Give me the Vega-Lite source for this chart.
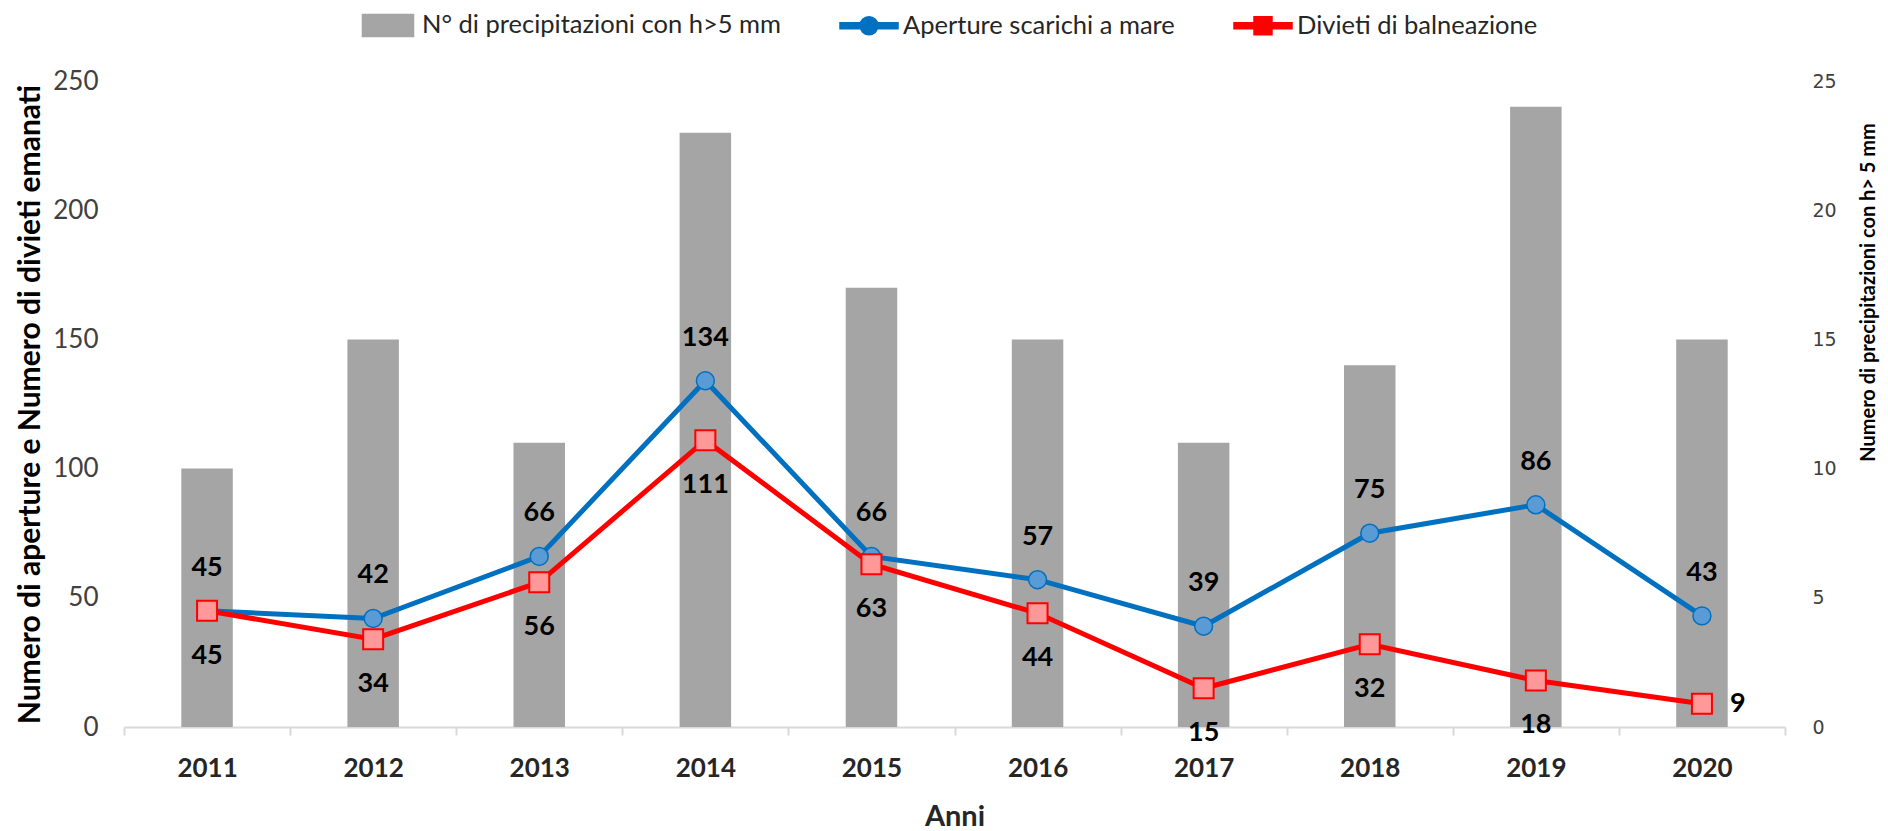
{
  "$schema": "https://vega.github.io/schema/vega-lite/v6.json",
  "width": 1661,
  "height": 646,
  "autosize": {"type": "none"},
  "padding": {"left": 124, "top": 81, "right": 103, "bottom": 104},
  "background": "white",
  "config": {
    "view": {"stroke": null},
    "font": "Lato, sans-serif",
    "axisLeft": {
      "grid": true,
      "gridWidth": 2,
      "domain": false,
      "ticks": false,
      "labelPadding": 26,
      "labelFontSize": 26,
      "labelColor": "#404040",
      "labelBaseline": "middle",
      "labelOverlap": false,
      "titleFontSize": 30,
      "titleFontWeight": "bold",
      "titleColor": "#000000",
      "titleX": -94,
      "titleY": 323,
      "titleAngle": 270,
      "titleAlign": "center",
      "titleBaseline": "middle"
    }
  },
  "data": {
    "values": [
      {"anno": "2011", "precip": 10, "aperture": 45, "divieti": 45},
      {"anno": "2012", "precip": 15, "aperture": 42, "divieti": 34},
      {"anno": "2013", "precip": 11, "aperture": 66, "divieti": 56},
      {"anno": "2014", "precip": 23, "aperture": 134, "divieti": 111},
      {"anno": "2015", "precip": 17, "aperture": 66, "divieti": 63},
      {"anno": "2016", "precip": 15, "aperture": 57, "divieti": 44},
      {"anno": "2017", "precip": 11, "aperture": 39, "divieti": 15},
      {"anno": "2018", "precip": 14, "aperture": 75, "divieti": 32},
      {"anno": "2019", "precip": 24, "aperture": 86, "divieti": 18},
      {"anno": "2020", "precip": 15, "aperture": 43, "divieti": 9}
    ]
  },
  "encoding": {
    "x": {
      "field": "anno",
      "type": "ordinal",
      "scale": {"paddingInner": 0, "paddingOuter": 0},
      "axis": {
        "title": "Anni",
        "labelAngle": 0,
        "labelFontSize": 26,
        "labelFontWeight": "bold",
        "labelColor": "#262626",
        "labelPadding": 20,
        "ticks": true,
        "tickBand": "extent",
        "tickSize": 8,
        "tickWidth": 2,
        "tickColor": "#d9d9d9",
        "domainColor": "#d9d9d9",
        "domainWidth": 2,
        "grid": false,
        "titleFontSize": 29,
        "titleFontWeight": "bold",
        "titleColor": "#262626",
        "titleY": 98,
        "titleBaseline": "alphabetic"
      }
    }
  },
  "layer": [
    {
      "mark": {"type": "bar", "width": {"band": 0.31}, "color": "#a5a5a5"},
      "encoding": {
        "y": {
          "field": "precip",
          "type": "quantitative",
          "scale": {"domain": [0, 25], "nice": false},
          "axis": {
            "orient": "right",
            "title": "Numero di precipitazioni con h> 5 mm",
            "values": [0, 5, 10, 15, 20, 25],
            "grid": false,
            "domain": false,
            "ticks": false,
            "labelPadding": 27,
            "labelFont": "DejaVu Sans",
            "labelFontSize": 19,
            "labelColor": "#404040",
            "titleFontSize": 20,
            "titleFontWeight": "bold",
            "titleColor": "#000000",
            "titleX": 83,
            "titleY": 211,
            "titleAngle": 270,
            "titleAlign": "center",
            "titleBaseline": "middle"
          }
        },
        "color": {
          "datum": "N° di precipitazioni con h>5 mm",
          "type": "nominal",
          "scale": {
            "domain": ["N° di precipitazioni con h>5 mm", "Aperture scarichi a mare", "Divieti di balneazione"],
            "range": ["#a5a5a5", "#0070c0", "#ff0000"]
          },
          "legend": {
            "orient": "none",
            "legendX": 234,
            "legendY": -86,
            "direction": "horizontal",
            "title": null,
            "padding": 0,
            "symbolSize": 3364,
            "labelFontSize": 25.5,
            "labelLimit": 0,
            "labelColor": "#262626",
            "labelOffset": 4,
            "columnPadding": 56,
            "encode": {
              "symbols": {
                "update": {
                  "shape": {"signal": "datum.value === 'Aperture scarichi a mare' ? 'M-1,-0.1H1V0.1H-1Z M0.31,0A0.31,0.31 0 1,1 -0.31,0A0.31,0.31 0 1,1 0.31,0Z' : datum.value === 'Divieti di balneazione' ? 'M-1,-0.1H1V0.1H-1Z M-0.31,-0.31H0.31V0.31H-0.31Z' : 'M-0.88,-0.38H0.88V0.38H-0.88Z'"},
                  "fill": {"scale": "color", "field": "value"},
                  "stroke": {"value": "transparent"},
                  "opacity": {"value": 1},
                  "fillOpacity": {"value": 1}
                }
              }
            }
          }
        }
      }
    },
    {
      "layer": [
        {
          "mark": {"type": "line", "strokeWidth": 5},
          "encoding": {
            "y": {
              "field": "aperture",
              "type": "quantitative",
              "scale": {"domain": [0, 250], "nice": false},
              "title": "Numero di aperture e Numero di divieti emanati",
              "axis": {"orient": "left", "title": "Numero di aperture e Numero di divieti emanati", "values": [0, 10, 20, 30, 40, 50, 60, 70, 80, 90, 100, 110, 120, 130, 140, 150, 160, 170, 180, 190, 200, 210, 220, 230, 240, 250], "labelExpr": "datum.value % 50 === 0 ? datum.label : ''", "gridColor": {"condition": {"test": "datum.value % 50 === 0", "value": "#d9d9d9"}, "value": "#ededed"}}
            },
            "color": {"datum": "Aperture scarichi a mare", "type": "nominal"}
          }
        },
        {
          "mark": {"type": "line", "strokeWidth": 5},
          "encoding": {
            "y": {
              "field": "divieti",
              "type": "quantitative",
              "title": "Numero di aperture e Numero di divieti emanati",
              "axis": {"orient": "left", "title": "Numero di aperture e Numero di divieti emanati", "values": [0, 10, 20, 30, 40, 50, 60, 70, 80, 90, 100, 110, 120, 130, 140, 150, 160, 170, 180, 190, 200, 210, 220, 230, 240, 250], "labelExpr": "datum.value % 50 === 0 ? datum.label : ''", "gridColor": {"condition": {"test": "datum.value % 50 === 0", "value": "#d9d9d9"}, "value": "#ededed"}}
            },
            "color": {"datum": "Divieti di balneazione", "type": "nominal"}
          }
        },
        {
          "mark": {"type": "point", "shape": "circle", "filled": true, "size": 320, "fill": "#5b9bd5", "stroke": "#0070c0", "strokeWidth": 1.5, "opacity": 1},
          "encoding": {
            "y": {
              "field": "aperture",
              "type": "quantitative",
              "title": "Numero di aperture e Numero di divieti emanati",
              "axis": {"orient": "left", "title": "Numero di aperture e Numero di divieti emanati", "values": [0, 10, 20, 30, 40, 50, 60, 70, 80, 90, 100, 110, 120, 130, 140, 150, 160, 170, 180, 190, 200, 210, 220, 230, 240, 250], "labelExpr": "datum.value % 50 === 0 ? datum.label : ''", "gridColor": {"condition": {"test": "datum.value % 50 === 0", "value": "#d9d9d9"}, "value": "#ededed"}}
            }
          }
        },
        {
          "mark": {"type": "point", "shape": "square", "filled": true, "size": 400, "fill": "#ff9999", "stroke": "#ff0000", "strokeWidth": 2, "opacity": 1},
          "encoding": {
            "y": {
              "field": "divieti",
              "type": "quantitative",
              "title": "Numero di aperture e Numero di divieti emanati",
              "axis": {"orient": "left", "title": "Numero di aperture e Numero di divieti emanati", "values": [0, 10, 20, 30, 40, 50, 60, 70, 80, 90, 100, 110, 120, 130, 140, 150, 160, 170, 180, 190, 200, 210, 220, 230, 240, 250], "labelExpr": "datum.value % 50 === 0 ? datum.label : ''", "gridColor": {"condition": {"test": "datum.value % 50 === 0", "value": "#d9d9d9"}, "value": "#ededed"}}
            }
          }
        },
        {
          "mark": {"type": "text", "dy": -43, "fontSize": 27, "fontWeight": "bold", "color": "#000000", "baseline": "middle"},
          "encoding": {
            "y": {
              "field": "aperture",
              "type": "quantitative",
              "title": "Numero di aperture e Numero di divieti emanati",
              "axis": {"orient": "left", "title": "Numero di aperture e Numero di divieti emanati", "values": [0, 10, 20, 30, 40, 50, 60, 70, 80, 90, 100, 110, 120, 130, 140, 150, 160, 170, 180, 190, 200, 210, 220, 230, 240, 250], "labelExpr": "datum.value % 50 === 0 ? datum.label : ''", "gridColor": {"condition": {"test": "datum.value % 50 === 0", "value": "#d9d9d9"}, "value": "#ededed"}}
            },
            "text": {"field": "aperture", "type": "quantitative"}
          }
        },
        {
          "transform": [{"filter": "datum.anno !== '2020'"}],
          "mark": {"type": "text", "dy": 45, "fontSize": 27, "fontWeight": "bold", "color": "#000000", "baseline": "middle"},
          "encoding": {
            "y": {
              "field": "divieti",
              "type": "quantitative",
              "title": "Numero di aperture e Numero di divieti emanati",
              "axis": {"orient": "left", "title": "Numero di aperture e Numero di divieti emanati", "values": [0, 10, 20, 30, 40, 50, 60, 70, 80, 90, 100, 110, 120, 130, 140, 150, 160, 170, 180, 190, 200, 210, 220, 230, 240, 250], "labelExpr": "datum.value % 50 === 0 ? datum.label : ''", "gridColor": {"condition": {"test": "datum.value % 50 === 0", "value": "#d9d9d9"}, "value": "#ededed"}}
            },
            "text": {"field": "divieti", "type": "quantitative"}
          }
        },
        {
          "transform": [{"filter": "datum.anno === '2020'"}],
          "mark": {"type": "text", "dx": 28, "align": "left", "fontSize": 27, "fontWeight": "bold", "color": "#000000", "baseline": "middle"},
          "encoding": {
            "y": {
              "field": "divieti",
              "type": "quantitative",
              "title": "Numero di aperture e Numero di divieti emanati",
              "axis": {"orient": "left", "title": "Numero di aperture e Numero di divieti emanati", "values": [0, 10, 20, 30, 40, 50, 60, 70, 80, 90, 100, 110, 120, 130, 140, 150, 160, 170, 180, 190, 200, 210, 220, 230, 240, 250], "labelExpr": "datum.value % 50 === 0 ? datum.label : ''", "gridColor": {"condition": {"test": "datum.value % 50 === 0", "value": "#d9d9d9"}, "value": "#ededed"}}
            },
            "text": {"field": "divieti", "type": "quantitative"}
          }
        }
      ]
    }
  ],
  "resolve": {"scale": {"y": "independent"}}
}
